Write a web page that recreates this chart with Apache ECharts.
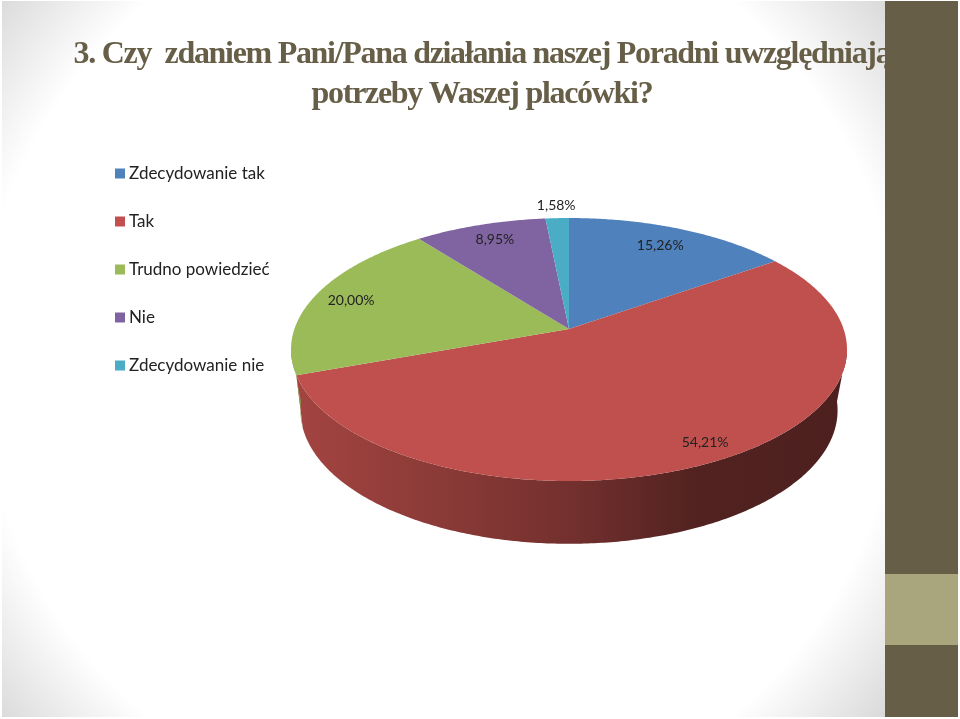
<!DOCTYPE html>
<html><head><meta charset="utf-8">
<style>html,body{margin:0;padding:0;background:#fff}#c{width:960px;height:719px}</style>
<script src="https://cdn.jsdelivr.net/npm/echarts@6/dist/echarts.min.js"></script>
</head><body><div id="c"></div>
<script>
const titleLines = ['3. Czy  zdaniem Pani/Pana działania naszej Poradni uwzględniają', 'potrzeby Waszej placówki?'];
const categories = ['Zdecydowanie tak', 'Tak', 'Trudno powiedzieć', 'Nie', 'Zdecydowanie nie'];
const shares = [15.26, 54.21, 20.00, 8.95, 1.58];
const shareLabels = ['15,26%', '54,21%', '20,00%', '8,95%', '1,58%'];
const sliceColors = ['#4F81BD', '#C0504D', '#9BBB59', '#8064A2', '#4BACC6'];
const labelNudges = [[-20, 16], [-11, -19], [35, 6], [15, 15], [-1, -13]];

// tighter title tracking: applied when the canvas draws or measures the serif title
const proto = CanvasRenderingContext2D.prototype;
for (const fn of ['fillText', 'measureText']) {
  const orig = proto[fn];
  proto[fn] = function () {
    this.letterSpacing = /Liberation Serif/.test(this.font) ? '-1.3px' : '0px';
    return orig.apply(this, arguments);
  };
}

const topPlane = {cx: 569, cy: 329, a: 128.3, b: 274.6, k: 0.156};
const basePlane = {cx: 569, cy: 381, a: 127, b: 262, k: 0.22};
const TAU = Math.PI * 2;
const TANGENT = Math.acos(-topPlane.k);

function project(p, t) {
  const d = 1 + p.k * Math.cos(t);
  return [p.cx + p.b * Math.sin(t) / d, p.cy - p.a * Math.cos(t) / d];
}
function arc(p, from, to) {
  const n = Math.max(2, Math.ceil(Math.abs(to - from) / 0.01));
  const pts = [];
  for (let i = 0; i <= n; i++) pts.push(project(p, from + (to - from) * i / n));
  return pts;
}
const total = shares.reduce((s, v) => s + v, 0);
function shade(col, f) {
  const c = echarts.color.parse(col);
  return 'rgb(' + [0, 1, 2].map(i => Math.round(c[i] * f)).join(',') + ')';
}
function shadeStops(col) {
  return [[0, 0.85], [0.27, 0.72], [0.5, 0.6], [0.73, 0.42], [1, 0.4]]
    .map(([offset, f]) => ({offset, color: shade(col, f)}));
}

const chart = echarts.init(document.getElementById('c'), null, {width: 960, height: 719});

const series = categories.map((name, idx) => ({
  type: 'custom',
  name,
  coordinateSystem: 'none',
  silent: true,
  animation: false,
  itemStyle: {color: sliceColors[idx]},
  data: [[shares[idx], shares.slice(0, idx).reduce((s, v) => s + v, 0)]],
  renderItem(params, api) {
    const from = api.value(1) / total * TAU;
    const to = from + api.value(0) / total * TAU;
    const col = sliceColors[idx];
    const children = [];
    const wa = Math.max(from, TANGENT), wb = Math.min(to, TAU - TANGENT);
    if (wb > wa) {
      children.push({
        type: 'polygon', z2: 1,
        shape: {points: arc(topPlane, wa, wb).concat(arc(basePlane, wb, wa))},
        style: {fill: new echarts.graphic.LinearGradient(296, 0, 846, 0, shadeStops(col), true)}
      });
    }
    children.push({
      type: 'polygon', z2: 2,
      shape: {points: [[topPlane.cx, topPlane.cy]].concat(arc(topPlane, from, to))},
      style: {fill: col}
    });
    const mid = project(topPlane, (from + to) / 2);
    children.push({
      type: 'text', z2: 3,
      x: mid[0] + labelNudges[idx][0], y: mid[1] + labelNudges[idx][1],
      style: {text: shareLabels[idx], fill: '#222', font: '14px Lato', align: 'center', verticalAlign: 'middle'}
    });
    return {type: 'group', children};
  }
}));

chart.setOption({
  animation: false,
  backgroundColor: '#ffffff',
  title: {
    text: titleLines.join('\n'),
    left: 477, top: 30, textAlign: 'center',
    textStyle: {fontFamily: 'Liberation Serif', fontWeight: 'bold', fontSize: 32, lineHeight: 40, color: '#665E47'}
  },
  legend: {
    orient: 'vertical', left: 110, top: 160, icon: 'rect',
    itemWidth: 10, itemHeight: 10, itemGap: 31, selectedMode: false,
    data: categories,
    textStyle: {fontFamily: 'Lato', fontSize: 17, color: '#222', padding: [0, 0, 0, -1]}
  },
  graphic: [
    {type: 'rect', z: -10, shape: {x: 2, y: 1, width: 884, height: 716},
     style: {fill: new echarts.graphic.RadialGradient(440, 359, 575,
       [{offset: 0, color: '#fff'}, {offset: 0.8, color: '#fff'}, {offset: 1, color: '#d8d8d8'}], true)}},
    {type: 'rect', z: 20, shape: {x: 885, y: 1, width: 73, height: 716}, style: {fill: '#675E47'}},
    {type: 'rect', z: 21, shape: {x: 885, y: 574, width: 73, height: 71}, style: {fill: '#A9A57C'}}
  ],
  series
});
</script></body></html>
